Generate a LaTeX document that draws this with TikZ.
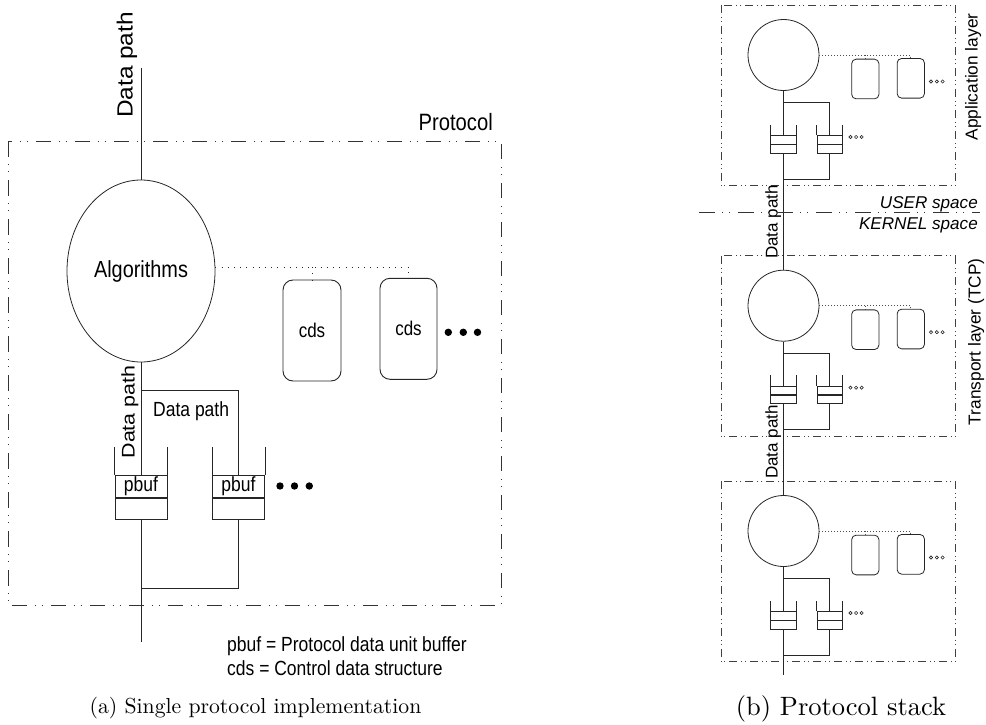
\documentclass[tikz,border=0pt]{standalone}
\usepackage{fontspec}
\usepackage{graphicx}
\setmainfont{Latin Modern Roman}
\setsansfont{Liberation Sans}
\usetikzlibrary{shapes.geometric}
\newcommand\fsz[1]{\fontsize{#1pt}{1.2\dimexpr#1pt\relax}\selectfont}
% the single-protocol drawing is set slightly taller than wide
\newcommand\tallx[1]{\scalebox{1}[1.17]{#1}}
\newcommand\tally[1]{\scalebox{1.17}[1]{#1}}
\begin{document}
\begin{tikzpicture}[x=1pt,y=-1pt,
  ln/.style={draw=black!85,line width=0.9pt},
  frame/.style={draw=black!80,line width=0.9pt,dash pattern=on 15.5pt off 7.5pt on 1pt off 6pt on 1pt off 8pt},
  sframe/.style={draw=black!75,line width=0.8pt,dash pattern=on 8pt off 4pt on 1pt off 3pt on 1pt off 4pt},
  dotl/.style={draw=black!85,line width=0.9pt,dash pattern=on 1pt off 5.2pt},
  sdotl/.style={draw=black!70,line width=0.7pt,dash pattern=on 0.8pt off 2.2pt},
  lbl/.style={font=\sffamily\fsz{17.5},inner sep=0pt},
  cdsbox/.style={ln,rounded corners=10pt,minimum width=58pt,minimum height=101pt,inner sep=0pt,font=\sffamily\fsz{17}},
  cell/.style={ln,minimum width=52pt,minimum height=21.6pt,inner sep=0pt,font=\sffamily\fsz{17.5}},
  circ/.style={draw=black!85,line width=0.8pt,circle,minimum size=71pt,inner sep=0pt},
  sbox/.style={draw=black!85,line width=0.8pt,rounded corners=4.5pt,minimum width=27.3pt,minimum height=39.7pt,inner sep=0pt},
  scell/.style={draw=black!85,line width=0.8pt,minimum width=25.3pt,minimum height=8.3pt,inner sep=0pt},
  sl/.style={draw=black!85,line width=0.8pt},
  rlbl/.style={font=\sffamily\fsz{17.3},inner sep=0pt},
  capt/.style={inner sep=0pt,anchor=base,font=\fsz{10}}
]
\useasboundingbox (0,0) rectangle (986,725);

% ---------------- (a) single protocol ----------------
\draw[frame] (8.3,141) rectangle (501,605.7);
\node[lbl,font=\sffamily\fsz{20.2},anchor=base east] (proto) at (493,130) {\tallx{Protocol}};

\coordinate (top) at (141,68.3);
\node[lbl,font=\sffamily\fsz{10},rotate=90,anchor=base] (dp0) at (132.5,65) {\scalebox{2.44}[2.2]{Data path}};

\node[ellipse,draw=black!85,line width=0.8pt,minimum width=148pt,minimum height=182pt,inner sep=0pt,
      font=\sffamily\fsz{19.9}] (alg) at (141,271) {\raisebox{4pt}{\tallx{Algorithms}}};
\draw[ln] (top) -- (alg.north);

\node[cdsbox] (d1) at (312,330.5) {\tallx{cds}};
\node[cdsbox,minimum width=57pt] (d2) at (408.5,328.8) {\tallx{cds}};
\draw[dotl] (alg.3) -- (alg.3 -| d2.north) -- (d2.north);
\draw[dotl] (alg.3 -| d1.north) -- (d1.north);
\foreach \x in {448.3,463.3,477.5} \fill[black] (\x,332.3) circle (3.7pt);

% buffers
\node[cell] (pb1) at (141,486.5) {\tallx{pbuf}};
\node[cell,anchor=north] (pb1l) at (pb1.south) {};
\node[cell] (pb2) at (238.5,486.5) {\tallx{pbuf}};
\node[cell,anchor=north] (pb2l) at (pb2.south) {};
\foreach \b in {pb1,pb2} {
  \draw[ln] (\b.north west) -- ++(0,-28.4);
  \draw[ln] (\b.north east) -- ++(0,-28.4);
}
\foreach \x in {280,294.5,309.3} \fill[black] (\x,486) circle (3.7pt);

\draw[ln] (alg.south) -- (pb1.north);
\coordinate (br) at (141,390);
\draw[ln] (br) -| (pb2.north);
\node[lbl,anchor=base west] (dph) at (153,416.5) {\tallx{Data path}};
\node[lbl,font=\sffamily\fsz{18.3},rotate=90,anchor=base] (dpv) at (134.5,412) {\tally{Data path}};

\coordinate (bot) at (141,641.7);
\coordinate (lo) at (141,588.3);
\draw[ln] (pb1l.south) -- (bot);
\draw[ln] (pb2l.south) |- (lo);

\node[lbl,anchor=base west] (leg1) at (227,651.5) {\tallx{pbuf = Protocol data unit buffer}};
\node[lbl,anchor=base west] (leg2) at (227,675.5) {\tallx{cds = Control data structure}};

\node[capt] (capa) at (255.5,713) {\scalebox{2.17}{(a) Single protocol implementation}};

% ---------------- (b) protocol stack ----------------
\foreach \i/\yc in {1/55,2/305.7,3/531} {
  \draw[sframe] (721,\yc-50) rectangle (955.5,\yc+130.7);
  \node[circ] (c\i) at (783.5,\yc) {};
  \node[sbox] (a\i) at (865.3,\yc+24) {};
  \node[sbox] (b\i) at (910.8,\yc+23.3) {};
  \draw[sdotl] (c\i.east) -- (c\i.east -| b\i.north) -- (b\i.north);
  \draw[sdotl] (c\i.east -| a\i.north) -- (a\i.north);
  \foreach \dx in {0,5.8,11.6} \draw[black!85,line width=0.6pt] (931+\dx,\yc+26.5) circle (1.6pt);
  \node[scell] (p\i) at (783.5,\yc+84.85) {};
  \node[scell,anchor=north] (pl\i) at (p\i.south) {};
  \node[scell] (q\i) at (829.8,\yc+84.85) {};
  \node[scell,anchor=north] (ql\i) at (q\i.south) {};
  \foreach \b in {p\i,q\i} {
    \draw[sl] (\b.north west) -- ++(0,-10.7);
    \draw[sl] (\b.north east) -- ++(0,-10.7);
  }
  \foreach \dx in {0,5.6,11.2} \draw[black!85,line width=0.6pt] (850.5+\dx,\yc+82) circle (1.6pt);
  \draw[sl] (c\i.south) -- (p\i.north);
  \coordinate (br\i) at (783.5,\yc+47.3);
  \draw[sl] (br\i) -| (q\i.north);
  \coordinate (lo\i) at (783.5,\yc+124);
  \draw[sl] (ql\i.south) |- (lo\i);
}
\coordinate (send) at (783.5,675);
\draw[sl] (pl1.south) -- (c2.north);
\draw[sl] (pl2.south) -- (c3.north);
\draw[sl] (pl3.south) -- (send);

\node[rlbl,rotate=90,anchor=base] (app) at (977.5,77) {Application layer};
\node[rlbl,rotate=90,anchor=base] (tcp) at (980.5,341.7) {Transport layer (TCP)};
\node[rlbl,font=\sffamily\fsz{17},rotate=90,anchor=base] (dpa) at (777.5,222) {Data path};
\node[rlbl,font=\sffamily\fsz{17},rotate=90,anchor=base] (dpb) at (777.5,442) {Data path};

\coordinate (ukl) at (699,212.3);
\coordinate (ukr) at (980,212.3);
\draw[frame] (ukl) -- (ukr);
\node[rlbl,font=\sffamily\itshape\fsz{17.1},anchor=base east] (user) at (978,208.3) {USER space};
\node[rlbl,font=\sffamily\itshape\fsz{17.1},anchor=base east] (kern) at (978,229.5) {KERNEL space};

\node[capt] (capb) at (841,715) {\scalebox{2.65}{(b) Protocol stack}};
\end{tikzpicture}
\end{document}
